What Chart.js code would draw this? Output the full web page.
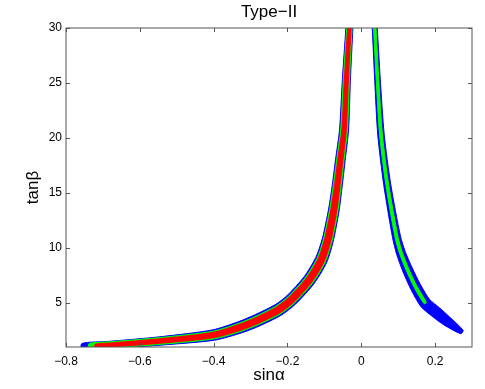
<!DOCTYPE html>
<html lang="en">
<head>
<meta charset="UTF-8">
<title>Type-II</title>
<script src="https://cdn.jsdelivr.net/npm/chart.js"></script>
<style>
  body { margin: 0; background: #fff; }
  canvas { display: block; }
</style>
</head>
<body>
<canvas id="chart" width="485" height="389"></canvas>
<script>
// axis ticks
const xTicks = [-0.8, -0.6, -0.4, -0.2, 0, 0.2];
const yTicks = [5, 10, 15, 20, 25, 30];

// band outlines [sinα, tanβ]
// left branch (sinα < 0): upper-left edge and lower-right edge
const leftBlueUpper = [[-0.0417,30],[-0.0513,25.29],[-0.0589,20.76],[-0.0697,18.05],[-0.0783,15.80],[-0.0886,13.54],[-0.1056,10.85],[-0.1233,9.14],[-0.1542,7.42],[-0.2015,5.66],[-0.234,4.83],[-0.2868,3.95],[-0.3314,3.32],[-0.4022,2.56],[-0.5452,1.93],[-0.681,1.52],[-0.757,1.32]];
const leftBlueLower = [[-0.0227,30],[-0.0295,25.25],[-0.0345,20.70],[-0.0437,17.95],[-0.0515,15.66],[-0.0602,13.36],[-0.076,10.61],[-0.0938,8.68],[-0.128,6.76],[-0.1787,4.88],[-0.217,3.89],[-0.2732,2.95],[-0.3212,2.32],[-0.3974,1.62],[-0.543,1.17],[-0.6794,0.84],[-0.756,0.68]];

const leftGreenUpper = [[-0.0393,30],[-0.0488,25.28],[-0.0559,20.75],[-0.0667,18.04],[-0.0754,15.79],[-0.0857,13.52],[-0.1024,10.83],[-0.1196,9.09],[-0.1509,7.34],[-0.1986,5.56],[-0.2319,4.71],[-0.285,3.81],[-0.33,3.18],[-0.4016,2.44],[-0.545,1.86],[-0.6809,1.47],[-0.7374,1.32]];
const leftGreenLower = [[-0.0251,30],[-0.032,25.26],[-0.0375,20.71],[-0.0467,17.96],[-0.0544,15.67],[-0.0631,13.38],[-0.0792,10.63],[-0.0974,8.73],[-0.1313,6.84],[-0.1816,4.98],[-0.2192,4.01],[-0.275,3.09],[-0.3226,2.46],[-0.398,1.74],[-0.5432,1.24],[-0.6795,0.89],[-0.7374,0.78]];

const leftRedUpper = [[-0.0368,30],[-0.0458,25.28],[-0.0527,20.745],[-0.0635,18.03],[-0.0722,15.77],[-0.0824,13.50],[-0.0993,10.80],[-0.1166,9.04],[-0.1483,7.27],[-0.1964,5.49],[-0.2302,4.62],[-0.2836,3.71],[-0.3289,3.08],[-0.4011,2.33],[-0.5447,1.75],[-0.6806,1.36],[-0.721,1.25]];
const leftRedLower = [[-0.0276,30],[-0.035,25.26],[-0.0407,20.715],[-0.0499,17.97],[-0.0577,15.69],[-0.0664,13.40],[-0.0824,10.66],[-0.1004,8.78],[-0.1339,6.91],[-0.1839,5.05],[-0.2209,4.10],[-0.2764,3.19],[-0.3237,2.56],[-0.3985,1.85],[-0.5435,1.35],[-0.6798,1.00],[-0.721,0.93]];

// right branch (sinα > 0): upper-right edge and lower-left edge
const rightBlueUpper = [[0.0434,30],[0.0516,25.28],[0.0622,20.30],[0.0799,15.78],[0.1062,11.07],[0.119,9.69],[0.1382,8.18],[0.1603,6.68],[0.1852,5.32],[0.2117,4.57],[0.2399,3.71],[0.2759,2.51]];
const rightBlueLower = [[0.0298,30],[0.0364,25.26],[0.0448,20.24],[0.0611,15.68],[0.0848,10.93],[0.096,9.41],[0.1133,7.82],[0.1348,6.22],[0.1614,4.68],[0.1921,3.79],[0.2239,3.01],[0.2695,2.21]];

const rightGreenUpper = [[0.0401,30],[0.0475,25.28],[0.0573,20.28],[0.0743,15.75],[0.0995,11.03],[0.1113,9.60],[0.1294,8.05],[0.1511,6.51],[0.1761,5.07]];
const rightGreenLower = [[0.0331,30],[0.0405,25.26],[0.0497,20.26],[0.0667,15.71],[0.0915,10.97],[0.1037,9.50],[0.122,7.95],[0.1439,6.39],[0.1705,4.93]];

const FONT = "'Liberation Sans', Arial, Helvetica, sans-serif";

// closed outline: one edge out, the other edge back
function band(upper, lower) {
  return upper.concat(lower.slice().reverse()).map(p => ({x: p[0], y: p[1]}));
}

function bandSet(upper, lower, color, order) {
  return {
    data: band(upper, lower),
    showLine: true,
    fill: 'shape',
    backgroundColor: color,
    borderColor: color,
    borderWidth: 1,
    pointRadius: 0,
    tension: 0.25,
    order: order
  };
}

function minus(v) {
  return String(v).replace('-', '\u2212');
}

// box round the plot with inward ticks on all four sides
const frame = {
  id: 'frame',
  afterDraw(chart) {
    const ctx = chart.ctx;
    const a = chart.chartArea;
    const x = chart.scales.x, y = chart.scales.y;
    const len = 4;
    ctx.save();
    ctx.strokeStyle = '#555';
    ctx.lineWidth = 1;
    ctx.strokeRect(a.left, a.top, a.right - a.left, a.bottom - a.top);
    ctx.beginPath();
    xTicks.forEach(v => {
      const px = Math.round(x.getPixelForValue(v)) + 0.5;
      ctx.moveTo(px, a.bottom); ctx.lineTo(px, a.bottom - len);
      ctx.moveTo(px, a.top); ctx.lineTo(px, a.top + len);
    });
    yTicks.forEach(v => {
      const py = Math.round(y.getPixelForValue(v)) + 0.5;
      ctx.moveTo(a.left, py); ctx.lineTo(a.left + len, py);
      ctx.moveTo(a.right, py); ctx.lineTo(a.right - len, py);
    });
    ctx.stroke();
    ctx.restore();
  }
};

new Chart(document.getElementById('chart').getContext('2d'), {
  type: 'scatter',
  data: {
    datasets: [
      bandSet(leftBlueUpper, leftBlueLower, '#0000ff', 3),
      bandSet(rightBlueUpper, rightBlueLower, '#0000ff', 3),
      bandSet(leftGreenUpper, leftGreenLower, '#00ff00', 2),
      bandSet(rightGreenUpper, rightGreenLower, '#00ff00', 2),
      bandSet(leftRedUpper, leftRedLower, '#ff0000', 1)
    ]
  },
  options: {
    responsive: false,
    animation: false,
    layout: { padding: { top: 0, right: 13, bottom: 0, left: 0 } },
    plugins: {
      legend: { display: false },
      tooltip: { enabled: false },
      title: {
        display: true,
        text: 'Type\u2212II',
        fullSize: false,
        color: '#000',
        font: { family: FONT, size: 17, weight: 'normal' },
        padding: { top: 2, bottom: 5.6 }
      }
    },
    scales: {
      x: {
        type: 'linear',
        min: -0.8,
        max: 0.3,
        afterBuildTicks: s => { s.ticks = xTicks.map(v => ({value: v})); },
        afterFit: s => { s.height = 42; },
        grid: { display: false, drawTicks: false },
        border: { display: false },
        ticks: {
          color: '#000',
          padding: 7,
          maxRotation: 0,
          font: { family: FONT, size: 12 },
          callback: v => minus(v)
        },
        title: {
          display: true,
          text: 'sin\u03b1',
          color: '#000',
          font: { family: FONT, size: 17 },
          padding: { top: 0, bottom: 3.3 }
        }
      },
      y: {
        type: 'linear',
        min: 1,
        max: 30,
        afterBuildTicks: s => { s.ticks = yTicks.map(v => ({value: v})); },
        afterFit: s => { s.width = 66; },
        grid: { display: false, drawTicks: false },
        border: { display: false },
        ticks: {
          color: '#000',
          padding: 4,
          font: { family: FONT, size: 12 }
        },
        title: {
          display: true,
          text: 'tan\u03b2',
          color: '#000',
          font: { family: FONT, size: 17 },
          padding: { top: 22.8, bottom: 0 }
        }
      }
    }
  },
  plugins: [frame]
});
</script>
</body>
</html>
